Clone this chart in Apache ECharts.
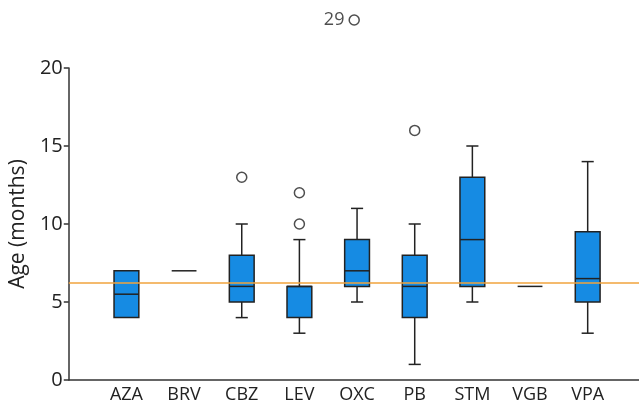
<!DOCTYPE html>
<html><head><meta charset="utf-8">
<script src="https://cdn.jsdelivr.net/npm/echarts@6/dist/echarts.min.js"></script>
<style>html,body{margin:0;padding:0;background:#fff}#c{width:639px;height:404px}</style>
</head><body><div id="c"></div>
<script>
const categories = ['AZA', 'BRV', 'CBZ', 'LEV', 'OXC', 'PB', 'STM', 'VGB', 'VPA'];
// [min, Q1, median, Q3, max]
const boxAZA = [4, 4, 5.5, 7, 7];
const boxBRV = [7, 7, 7, 7, 7];
const boxCBZ = [4, 5, 6, 8, 10];
const boxLEV = [3, 4, 6, 6, 9];
const boxOXC = [5, 6, 7, 9, 11];
const boxPB  = [1, 4, 6, 8, 10];
const boxSTM = [5, 6, 9, 13, 15];
const boxVGB = [6, 6, 6, 6, 6];
const boxVPA = [3, 5, 6.5, 9.5, 14];
const outlierCats = ['CBZ', 'LEV', 'LEV', 'PB'];
const outlierVals = [13, 10, 12, 16];
const farOutlierCats = ['OXC'];
const farOutlierVals = [29];
const referenceLine = 6.25;
const yTicks = [0, 5, 10, 15, 20];

const boxes = [boxAZA, boxBRV, boxCBZ, boxLEV, boxOXC, boxPB, boxSTM, boxVGB, boxVPA];
const pos = c => categories.indexOf(c) + 1;
const boxData = boxes.map((b, i) => [i + 1].concat(b));

const font = '"Open Sans", "Noto Sans", sans-serif';
const chart = echarts.init(document.getElementById('c'));
const stroke = '#222';
const xMax = 9.89;

function renderBox(params, api) {
  const idx = api.value(0);
  const band = api.size([1, 0])[0];
  const bw = band * 0.43, cw = band * 0.21;
  const pMin = api.coord([idx, api.value(1)]);
  const pQ1 = api.coord([idx, api.value(2)]);
  const pMed = api.coord([idx, api.value(3)]);
  const pQ3 = api.coord([idx, api.value(4)]);
  const pMax = api.coord([idx, api.value(5)]);
  const x = pMin[0];
  const ls = { stroke: stroke, lineWidth: 1.5 };
  const children = [];
  if (api.value(1) === api.value(5)) {
    children.push({ type: 'line', shape: { x1: x - bw / 2, y1: pMed[1], x2: x + bw / 2, y2: pMed[1] }, style: ls });
    return { type: 'group', children };
  }
  if (pMin[1] !== pQ1[1]) {
    children.push({ type: 'line', shape: { x1: x, y1: pMin[1], x2: x, y2: pQ1[1] }, style: ls });
    children.push({ type: 'line', shape: { x1: x - cw / 2, y1: pMin[1], x2: x + cw / 2, y2: pMin[1] }, style: ls });
  }
  if (pMax[1] !== pQ3[1]) {
    children.push({ type: 'line', shape: { x1: x, y1: pMax[1], x2: x, y2: pQ3[1] }, style: ls });
    children.push({ type: 'line', shape: { x1: x - cw / 2, y1: pMax[1], x2: x + cw / 2, y2: pMax[1] }, style: ls });
  }
  children.push({ type: 'rect', shape: { x: x - bw / 2, y: pQ3[1], width: bw, height: pQ1[1] - pQ3[1] },
    style: { fill: '#168be3', stroke: stroke, lineWidth: 1.5 } });
  children.push({ type: 'line', shape: { x1: x - bw / 2, y1: pMed[1], x2: x + bw / 2, y2: pMed[1] }, style: ls });
  return { type: 'group', children };
}

chart.setOption({
  animation: false,
  grid: [
    { left: 63, top: 68, right: 0, height: 313 },
    { left: 63, top: 10, right: 0, height: 20 }
  ],
  xAxis: [
    { type: 'value', gridIndex: 0, min: 0, max: xMax, interval: 1,
      axisLine: { show: true, onZero: false, lineStyle: { color: '#333', width: 1.5 } },
      axisTick: { show: false }, splitLine: { show: false },
      axisLabel: { color: '#222', fontSize: 18, fontFamily: font, margin: 6, showMaxLabel: false,
        formatter: v => categories[Math.round(v) - 1] || '' } },
    { type: 'value', gridIndex: 1, min: 0, max: xMax, show: false }
  ],
  yAxis: [
    { type: 'value', gridIndex: 0, min: 0, max: 20, interval: 5,
      name: 'Age (months)', nameLocation: 'middle', nameGap: 31,
      nameTextStyle: { color: '#222', fontSize: 21, fontFamily: font },
      axisLine: { show: true, lineStyle: { color: '#333', width: 1.5 } },
      axisTick: { show: true, length: 5, lineStyle: { color: '#333', width: 1.5 } },
      axisLabel: { color: '#222', fontSize: 20, fontFamily: font, margin: 6,
        formatter: v => yTicks.includes(v) ? String(v) : '' },
      splitLine: { show: false } },
    { type: 'value', gridIndex: 1, min: 28, max: 30, show: false }
  ],
  series: [
    { type: 'custom', xAxisIndex: 0, yAxisIndex: 0, renderItem: renderBox,
      encode: { x: 0, y: [1, 2, 3, 4, 5] }, data: boxData, z: 3 },
    { type: 'scatter', xAxisIndex: 0, yAxisIndex: 0, symbol: 'circle', symbolSize: 10,
      itemStyle: { color: '#fff', borderColor: stroke, borderWidth: 1.5 },
      data: outlierCats.map((c, i) => [pos(c), outlierVals[i]]), z: 4,
      markLine: { silent: true, symbol: 'none', label: { show: false },
        lineStyle: { color: '#f0a33c', width: 1.5, type: 'solid' },
        data: [{ yAxis: referenceLine }] } },
    { type: 'scatter', xAxisIndex: 1, yAxisIndex: 1, symbol: 'circle', symbolSize: 10,
      itemStyle: { color: '#fff', borderColor: stroke, borderWidth: 1.5 },
      label: { show: true, position: 'left', distance: 4, color: '#222', fontSize: 18, fontFamily: font,
        formatter: p => String(p.value[1]) },
      data: farOutlierCats.map((c, i) => [pos(c), farOutlierVals[i]]) }
  ]
});
</script></body></html>
